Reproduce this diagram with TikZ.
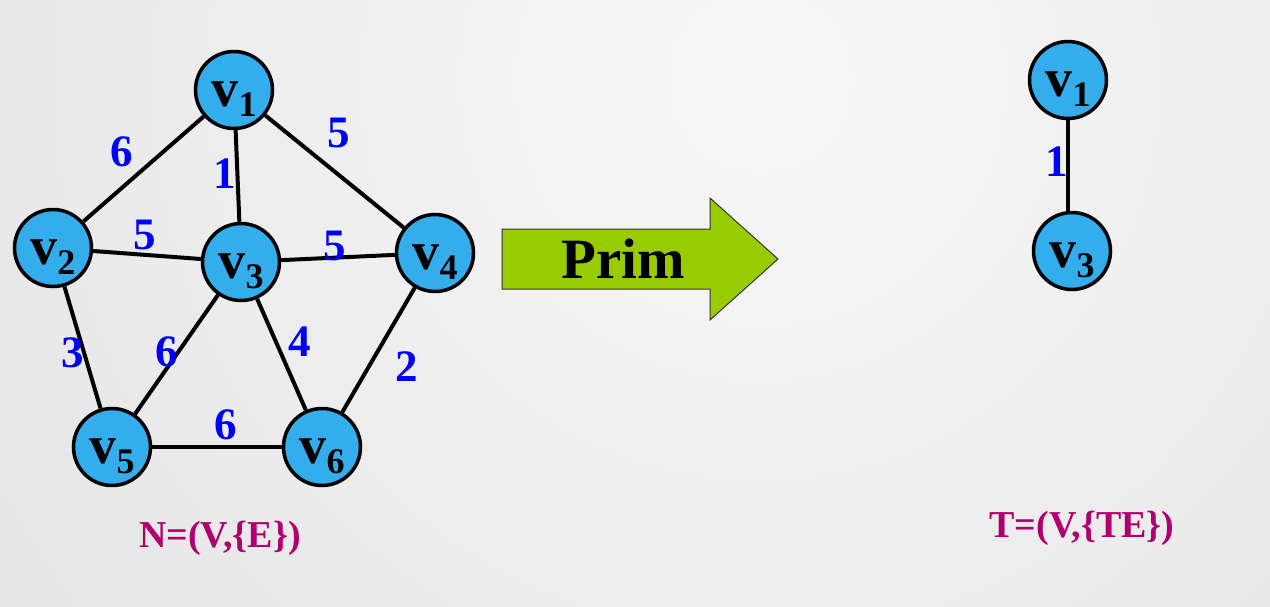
\documentclass[tikz,border=0pt]{standalone}
\usepackage{fontspec}
\setmainfont{Liberation Serif}
\definecolor{nodeblue}{HTML}{33ADEB}
\definecolor{wblue}{HTML}{0000FF}
\definecolor{magl}{HTML}{B0006E}
\definecolor{argreen}{HTML}{99CC00}
\newcommand\vsub[1]{{\fontsize{54}{54}\selectfont v}\raisebox{-10pt}{\fontsize{36}{36}\selectfont #1}}
\begin{document}
\begin{tikzpicture}[x=1pt,y=-1pt,
  vert/.style={circle,draw=black,line width=3.5pt,fill=nodeblue,minimum size=77pt,inner sep=0pt,text height=40pt,text depth=8pt,font=\bfseries},
  edge/.style={line width=4pt,black},
  wt/.style={text=wblue,font=\fontsize{45}{45}\selectfont\bfseries,inner sep=0pt},
  formula/.style={text=magl,font=\fontsize{38}{38}\selectfont\bfseries,inner sep=0pt,anchor=base},
  bigarrow/.style={fill=argreen,draw=black!80,line width=1pt}]
\useasboundingbox (0,0) rectangle (1270,606);
\begin{scope}
  \clip (0,0) rectangle (1270,606);
  \shade[inner color=white!97!black, outer color=white!84!black] (760,80) circle (1700);
\end{scope}
% left graph
\node[vert] (v1) at (234,90) {\vsub{1}};
\node[vert] (v2) at (53,248) {\vsub{2}};
\node[vert] (v3) at (241,262) {\vsub{3}};
\node[vert] (v4) at (435,253) {\vsub{4}};
\node[vert] (v5) at (112,447) {\vsub{5}};
\node[vert] (v6) at (322,447) {\vsub{6}};
\draw[edge] (v1) -- (v2);
\draw[edge] (v1) -- (v3);
\draw[edge] (v1) -- (v4);
\draw[edge] (v2) -- (v3);
\draw[edge] (v3) -- (v4);
\draw[edge] (v2) -- (v5);
\draw[edge] (v3) -- (v5);
\draw[edge] (v3) -- (v6);
\draw[edge] (v4) -- (v6);
\draw[edge] (v5) -- (v6);
\node[wt] (w12) at (122,152) {6};
\node[wt] (w13) at (225,174) {1};
\node[wt] (w14) at (339,133) {5};
\node[wt] (w23) at (145,235) {5};
\node[wt] (w34) at (335,246) {5};
\node[wt] (w25) at (73,353) {3};
\node[wt] (w35) at (167,352) {6};
\node[wt] (w36) at (300,342) {4};
\node[wt] (w46) at (407,367) {2};
\node[wt] (w56) at (226,425) {6};
% arrow
\draw[bigarrow] (502,229) -- (710,229) -- (710,198) -- (778,259) -- (710,320) -- (710,289) -- (502,289) -- cycle;
\node[inner sep=0pt,anchor=base,font=\fontsize{57}{57}\selectfont\bfseries] (prim) at (623,278) {Prim};
% right graph
\node[vert] (r1) at (1068,80) {\vsub{1}};
\node[vert] (r3) at (1072,251) {\vsub{3}};
\draw[edge] (r1.south) -- (r1.south |- r3.north);
\node[wt] (rw) at (1057,162) {1};
% formulas
\node[formula] (nf) at (220,547) {N=(V,\{E\})};
\node[formula] (tf) at (1082,537) {T=(V,\{TE\})};
\end{tikzpicture}
\end{document}
